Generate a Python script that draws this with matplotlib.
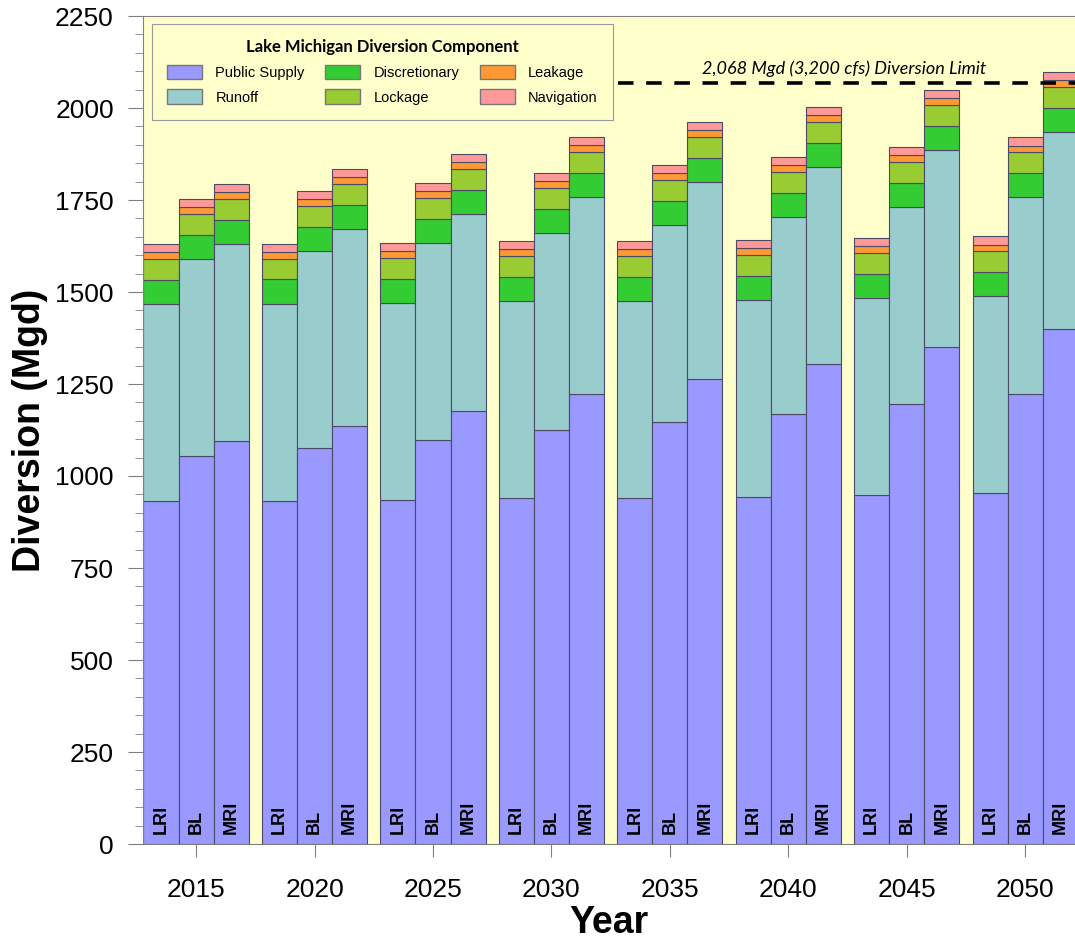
"""
Lake Michigan diversion by component, scenario and year.
"""

import numpy as np
import matplotlib.pyplot as plt
import matplotlib.transforms as mtransforms
from matplotlib.patches import Patch
from matplotlib.ticker import MultipleLocator

plt.rcParams["font.family"] = ["Liberation Sans", "DejaVu Sans"]

years = [2015, 2020, 2025, 2030, 2035, 2040, 2045, 2050]
scenarios = ["LRI", "BL", "MRI"]

# public supply differs by scenario (Mgd)
public_supply_lri = [932, 933, 935, 940, 940, 943, 948, 953]
public_supply_bl = [1055, 1076, 1098, 1125, 1147, 1168, 1196, 1222]
public_supply_mri = [1095, 1136, 1177, 1223, 1264, 1305, 1351, 1399]

# the other components are the same for every scenario (Mgd)
runoff = [535, 535, 535, 535, 535, 535, 535, 535]
discretionary = [66, 66, 66, 66, 66, 66, 66, 66]
lockage = [57, 57, 57, 57, 57, 57, 57, 57]
leakage = [18, 18, 18, 18, 18, 18, 18, 18]
navigation = [22, 22, 22, 22, 22, 22, 22, 22]

component_labels = ["Public Supply", "Runoff", "Discretionary",
                    "Lockage", "Leakage", "Navigation"]
component_colors = ["#9999FF", "#99CCCC", "#33CC33",
                    "#99CC33", "#FF9933", "#FF9999"]

limit_mgd = 2068

fig = plt.figure(figsize=(10.75, 9.43), dpi=100)
ax = fig.add_axes([143 / 1075, 1 - 844 / 943, 932 / 1075, 828 / 943])
ax.set_facecolor("#FFFFCC")

w = 1.48
ps_by_scenario = [public_supply_lri, public_supply_bl, public_supply_mri]
for i, (sc, ps) in enumerate(zip(scenarios, ps_by_scenario)):
    x = np.array(years) + (i - 1) * w
    bottom = np.zeros(len(years))
    for vals, color in zip([ps, runoff, discretionary, lockage, leakage, navigation],
                           component_colors):
        ax.bar(x, vals, w, bottom=bottom, color=color,
               edgecolor="#4a4a66", linewidth=0.8, zorder=2)
        bottom += np.array(vals)
    for xi in x:
        ax.text(xi, 28, sc, rotation=90, ha="center", va="bottom",
                fontsize=13, fontweight="bold", zorder=3)

# diversion limit
ax.axhline(limit_mgd, xmin=0.51, xmax=1, color="black", linewidth=2.6,
           linestyle=(0, (4.3, 3.5)), zorder=5)
trans = mtransforms.blended_transform_factory(ax.transAxes, ax.transData)
ax.annotate("2,068 Mgd (3,200 cfs) Diversion Limit", xy=(0.752, limit_mgd),
            xycoords=trans, xytext=(0, 4), textcoords="offset points",
            ha="center", va="bottom", fontsize=13, style="italic",
            family=["Lato", "DejaVu Sans"])

ax.set_xlim(2012.76, 2052.1)
ax.set_ylim(0, 2250)
ax.set_xticks(years)
ax.yaxis.set_major_locator(MultipleLocator(250))
ax.yaxis.set_minor_locator(MultipleLocator(50))

ax.tick_params(axis="y", which="major", length=11, pad=10, color="#808080",
               labelsize=19)
ax.tick_params(axis="y", which="minor", length=6, color="#808080")
ax.tick_params(axis="x", which="major", length=9.5, pad=15, color="#808080",
               labelsize=19)
for side in ["left", "bottom", "top"]:
    ax.spines[side].set_color("#808080")
ax.spines["right"].set_visible(False)

ax.set_ylabel("Diversion (Mgd)", fontsize=27, fontweight="bold", labelpad=5)
ax.set_xlabel("Year", fontsize=27, fontweight="bold", labelpad=2)

handles = [Patch(facecolor=c, edgecolor="#777777", label=l)
           for l, c in zip(component_labels, component_colors)]
leg = ax.legend(handles=handles, ncol=3, loc="upper left",
                bbox_to_anchor=(9 / 932, 1 - 8 / 828), borderaxespad=0,
                title="Lake Michigan Diversion Component",
                title_fontproperties={"family": ["Lato", "DejaVu Sans"],
                                      "weight": "bold", "size": 12},
                fontsize=10.5, frameon=True, fancybox=False,
                edgecolor="#999999", facecolor="#FFFFCC", framealpha=1,
                handlelength=2.4, handleheight=1.15, handletextpad=0.9,
                columnspacing=1.4, labelspacing=0.65, borderpad=1.05)
leg.get_frame().set_linewidth(0.8)
leg.set_zorder(6)

fig.savefig("out.png", dpi=100)
